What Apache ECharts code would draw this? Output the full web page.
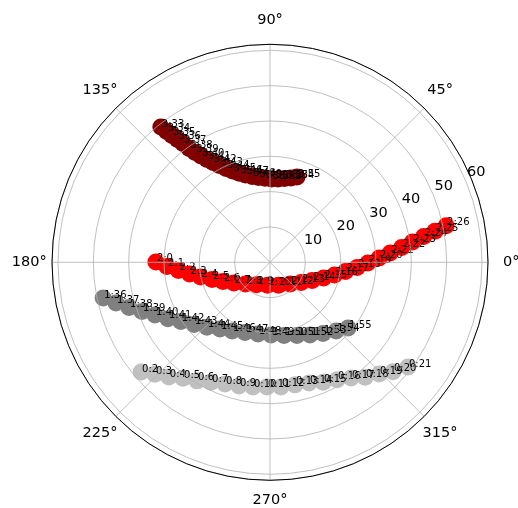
<!DOCTYPE html>
<html>
<head>
<meta charset="utf-8">
<script src="https://cdn.jsdelivr.net/npm/echarts@6/dist/echarts.min.js"></script>
<style>
  html, body { margin: 0; padding: 0; background: #ffffff; }
  #chart { width: 518px; height: 508px; }
</style>
</head>
<body>
<div id="chart"></div>
<script>
// Angle ticks (degrees) and their labels
const angleTicks = [0, 45, 90, 135, 180, 225, 270, 315];
const angleTickLabels = ['0°', '45°', '90°', '135°', '180°', '225°', '270°', '315°'];
// Radial ticks
const radiusTicks = [10, 20, 30, 40, 50, 60];

// Series 0 (silver)
const silverLabels = ['0:2','0:3','0:4','0:5','0:6','0:7','0:8','0:9','0:10','0:11',
                      '0:12','0:13','0:14','0:15','0:16','0:17','0:18','0:19','0:20','0:21'];
const silverTheta = [220.4, 224.2, 228.6, 233.1, 238.4, 243.8, 249.7, 255.9, 262.2, 268.6,
                     275.0, 281.5, 287.9, 293.9, 299.7, 305.0, 309.6, 314.3, 318.3, 322.8];
const silverR = [47.9, 45.4, 43.3, 41.0, 39.4, 37.8, 36.7, 36.1, 35.6, 35.3,
                 35.4, 35.4, 35.9, 37.1, 38.3, 40.0, 42.2, 44.2, 46.6, 49.0];

// Series 1 (gray)
const grayLabels = ['1:36','1:37','1:38','1:39','1:40','1:41','1:42','1:43','1:44','1:45',
                    '1:46','1:47','1:48','1:49','1:50','1:51','1:52','1:53','1:54','1:55'];
const grayTheta = [192.1, 194.8, 197.8, 201.0, 204.6, 208.9, 213.6, 219.3, 225.8, 233.1,
                   241.1, 250.4, 260.5, 270.8, 280.8, 290.2, 298.8, 306.7, 313.9, 319.9];
const grayR = [48.3, 45.1, 41.9, 38.8, 35.8, 33.0, 30.3, 27.8, 25.6, 23.6,
               22.2, 21.1, 20.6, 20.6, 21.1, 22.1, 23.5, 25.1, 27.0, 28.9];

// Series 2 (red)
const redLabels = ['2:0','2:1','2:2','2:3','2:4','2:5','2:6','2:7','2:8','2:9',
                   '2:10','2:11','2:12','2:13','2:14','2:15','2:16','2:17','2:18','2:19',
                   '2:20','2:21','2:22','2:23','2:24','2:25','2:26'];
const redTheta = [179.8, 182.3, 185.1, 188.3, 191.9, 196.5, 202.2, 209.9, 221.5, 238.7,
                  263.7, 290.5, 312.7, 326.9, 336.6, 343.6, 348.9, 353.1, 356.6, 359.6,
                  2.3, 4.4, 6.4, 8.1, 9.5, 10.7, 11.7];
const redR = [32.3, 29.2, 26.0, 23.0, 20.1, 17.1, 14.4, 11.8, 9.3, 7.4,
              6.5, 6.9, 8.4, 10.5, 13.0, 15.8, 18.6, 21.5, 24.7, 27.7,
              30.9, 34.1, 37.5, 40.7, 44.1, 47.5, 50.9];

// Series 3 (dark red)
const maroonLabels = ['3:33','3:34','3:35','3:36','3:37','3:38','3:39','3:40','3:41','3:42',
                      '3:43','3:44','3:45','3:46','3:47','3:48','3:49','3:50','3:51','3:52',
                      '3:53','3:54','3:55'];
const maroonTheta = [128.9, 128.3, 127.7, 127.0, 126.2, 125.4, 124.3, 123.0, 121.5, 119.7,
                     117.6, 115.1, 112.3, 109.1, 105.7, 101.8, 97.7, 93.4, 89.0, 84.5,
                     80.2, 76.0, 72.4];
const maroonR = [49.2, 47.2, 45.4, 43.5, 41.7, 39.5, 37.6, 35.9, 34.1, 32.5,
                 30.9, 29.3, 27.9, 26.7, 25.7, 24.8, 24.2, 23.8, 23.6, 23.7,
                 24.1, 24.6, 25.3];

const FONT = 'DejaVu Sans';
const AXIS_FONT_SIZE = 14.5;
const R_MAX = 61.7;
const CENTER = [270, 262.3];
const OUTER = 218;
const RLABEL_SHIFT = 13;   // radial labels sit a little further out than their rings

// Per-label padding [top, right, bottom, left] so every angle label ends up
// centred at the same distance from the pole.
const anglePads = [
  [0, 0, 0, 18], [0, 0, 12.3, 5.2], [0, 0, 19.3, 0], [0, 0.5, 12.3, 0],
  [0, 8.3, 0, 0], [11.2, 0.5, 0, 0], [15.5, 0, 0, 0], [11.2, 0, 0, 0.5]
];
const angleRich = {};
anglePads.forEach((pad, k) => {
  angleRich['p' + k] = { padding: pad, fontFamily: FONT, fontSize: AXIS_FONT_SIZE, color: '#000000' };
});

function pointSeries(name, labels, theta, r, color) {
  return {
    name: name,
    type: 'scatter',
    coordinateSystem: 'polar',
    polarIndex: 0,
    symbol: 'circle',
    symbolSize: 17,
    z: 2,
    itemStyle: { color: color, opacity: 1 },
    label: {
      show: true,
      formatter: p => p.name,
      position: [9.5, 10.5],
      align: 'left',
      verticalAlign: 'bottom',
      fontFamily: FONT,
      fontSize: 10,
      color: '#000000'
    },
    emphasis: { disabled: true },
    data: theta.map((t, i) => ({ name: labels[i], value: [r[i], t] }))
  };
}

const chart = echarts.init(document.getElementById('chart'), null, { renderer: 'canvas' });
chart.setOption({
  animation: false,
  backgroundColor: '#ffffff',
  polar: [
    { center: CENTER, radius: [0, OUTER] },
    { center: CENTER, radius: [RLABEL_SHIFT, OUTER + RLABEL_SHIFT] }
  ],
  angleAxis: [
    {
      polarIndex: 0,
      type: 'value',
      min: 0, max: 360, interval: 45,
      startAngle: 0, clockwise: false,
      z: 3,
      axisLine: { show: true, lineStyle: { color: '#000000', width: 1 } },
      axisTick: { show: false },
      axisLabel: {
        show: true, margin: -3,
        fontFamily: FONT, fontSize: AXIS_FONT_SIZE, color: '#000000',
        rich: angleRich,
        formatter: v => {
          const k = angleTicks.indexOf(v);
          return k >= 0 ? '{p' + k + '|' + angleTickLabels[k] + '}' : '';
        }
      },
      splitLine: { show: true, lineStyle: { color: '#b0b0b0', width: 0.8 } }
    },
    {
      polarIndex: 1,
      type: 'value',
      min: 0, max: 360, interval: 45,
      startAngle: 22.5, clockwise: false,
      show: false
    }
  ],
  radiusAxis: [
    {
      polarIndex: 0,
      type: 'value',
      min: 0, max: R_MAX, interval: 10,
      z: 3,
      axisLine: { show: false },
      axisTick: { show: false },
      axisLabel: { show: false },
      splitLine: { show: true, lineStyle: { color: '#b0b0b0', width: 0.8 } }
    },
    {
      polarIndex: 1,
      type: 'value',
      min: 0, max: R_MAX, interval: 10,
      z: 3,
      axisLine: { show: false },
      axisTick: { show: false },
      splitLine: { show: false },
      axisLabel: {
        show: true, margin: 4,
        align: 'center', verticalAlign: 'middle',
        showMinLabel: false, showMaxLabel: false,
        fontFamily: FONT, fontSize: AXIS_FONT_SIZE, color: '#000000',
        formatter: v => (radiusTicks.indexOf(v) >= 0 ? String(v) : '')
      }
    }
  ],
  series: [
    pointSeries('0', silverLabels, silverTheta, silverR, '#c0c0c0'),
    pointSeries('1', grayLabels, grayTheta, grayR, '#808080'),
    pointSeries('2', redLabels, redTheta, redR, '#ff0000'),
    pointSeries('3', maroonLabels, maroonTheta, maroonR, '#800000')
  ]
});
</script>
</body>
</html>
